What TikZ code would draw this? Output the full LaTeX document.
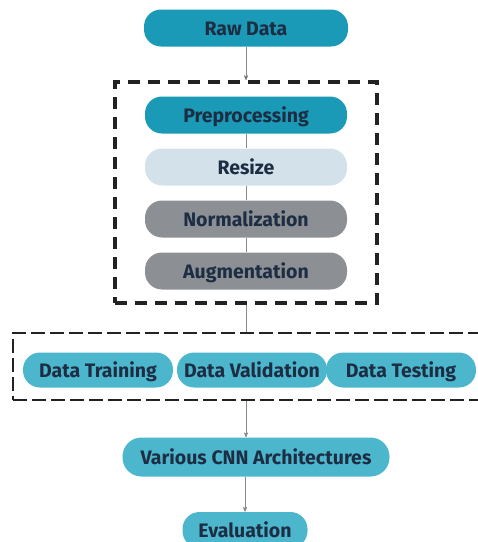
\documentclass[tikz,border=0pt]{standalone}
\usepackage{fontspec}
\setmainfont{Fira Sans}
\usetikzlibrary{arrows}

\definecolor{tealdark}{HTML}{1A9AB6}
\definecolor{teallight}{HTML}{4CB7CC}
\definecolor{paleblue}{HTML}{D3E2EA}
\definecolor{midgrey}{HTML}{8C9094}
\definecolor{inknavy}{HTML}{1D2D44}
\definecolor{linkgrey}{HTML}{8A8A8A}
\definecolor{boxline}{HTML}{222222}

\begin{document}
\begin{tikzpicture}[x=1pt,y=-1pt,->,>=stealth',semithick,node distance=52pt]
	\tikzstyle{pill}=[draw=none,text=inknavy,rounded corners=17pt,minimum height=37pt,minimum width=202pt,font=\fontsize{19.5}{22}\selectfont\bfseries,inner sep=0pt,text height=16pt,text depth=2pt]
	\tikzstyle{split}=[pill,fill=teallight,minimum width=150pt,minimum height=35pt]
	\tikzstyle{link}=[draw=linkgrey,line width=0.7pt]

	\useasboundingbox (0,0) rectangle (478,542);

	\node[pill,fill=tealdark,minimum width=204pt] (raw) at (246,28) {Raw Data};

	% preprocessing group
	\node[draw=boxline,line width=4pt,dash pattern=on 12pt off 8pt,minimum width=262pt,minimum height=221pt] (prepbox) at (246,192.5) {};
	\node[pill,fill=tealdark] (prep) at (246,115) {Preprocessing};
	\node[pill,fill=paleblue] (resize) [below of=prep] {Resize};
	\node[pill,fill=midgrey] (norm) [below of=resize] {Normalization};
	\node[pill,fill=midgrey] (aug) [below of=norm] {Augmentation};

	% data split
	\node[draw=boxline,line width=1.6pt,dash pattern=on 14pt off 5pt,minimum width=467pt,minimum height=67pt] (splitbox) at (246.5,366.5) {};
	\node[split] (train) at (98,370) {Data Training};
	\node[split] (valid) [right of=train,node distance=154pt] {Data Validation};
	\node[split] (test) [right of=valid,node distance=149pt] {Data Testing};

	\node[pill,fill=teallight,minimum width=267pt,minimum height=39pt,rounded corners=19pt] (cnn) at (256,457) {Various CNN Architectures};
	\node[pill,fill=teallight,minimum width=125pt,minimum height=36pt] (eval) at (245,530) {Evaluation};

	\path[link] (raw) edge (prepbox);
	\draw[link,-] (prep) -- (resize);
	\draw[link,-] (resize) -- (norm);
	\draw[link,-] (norm) -- (aug);
	\draw[link,-] (prepbox) -- (prepbox.south |- splitbox.north);
	\draw[link] (prepbox.south |- splitbox.south) -- (prepbox.south |- cnn.north);
	\draw[link] (cnn.south -| eval) -- (eval);
\end{tikzpicture}
\end{document}
